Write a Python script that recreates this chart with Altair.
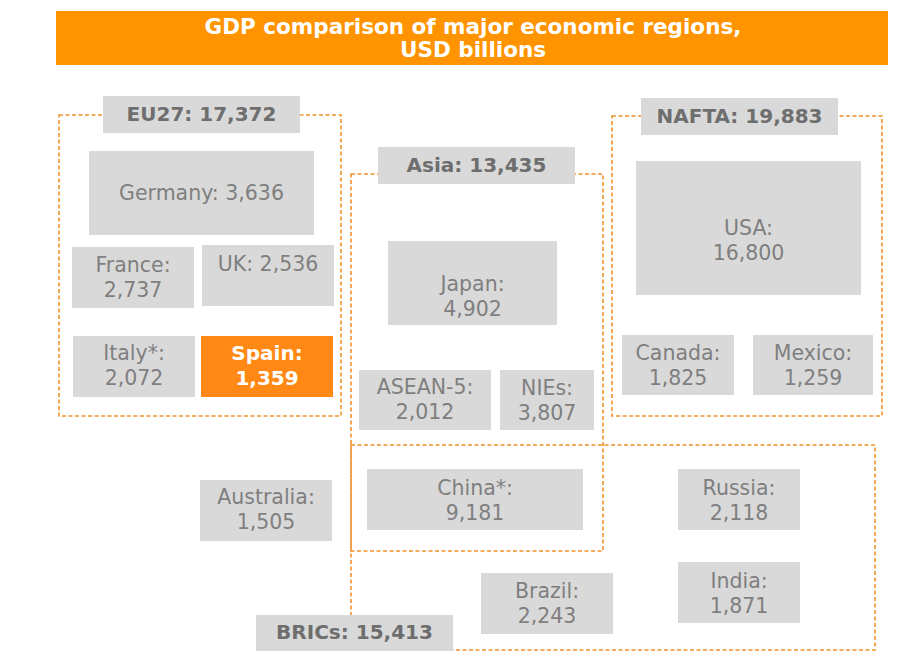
import altair as alt
import pandas as pd

# ---- data ----
title_lines = ["GDP comparison of major economic regions,", "USD billions"]

countries = ["Germany", "France", "UK", "Italy*", "Spain", "Japan", "ASEAN-5", "NIEs",
             "China*", "Australia", "Russia", "India", "Brazil", "USA", "Canada", "Mexico"]
gdp = [3636, 2737, 2536, 2072, 1359, 4902, 2012, 3807,
       9181, 1505, 2118, 1871, 2243, 16800, 1825, 1259]
one_line = ["Germany", "UK"]          # labels shown on a single line
highlight = "Spain"

regions = ["EU27", "Asia", "NAFTA", "BRICs"]
region_gdp = [17372, 13435, 19883, 15413]

# ---- layout of the diagram (page pixels): box x0, y0, x1, y1, first text line y ----
country_box = {
    "Germany": (89, 153, 314, 237, 196),
    "France": (72, 249, 194, 310, 268),
    "UK": (202, 247, 334, 308, 267),
    "Italy*": (73, 338, 195, 399, 356),
    "Spain": (201, 338, 333, 399, 356),
    "Japan": (388, 243, 557, 327, 287),
    "ASEAN-5": (359, 372, 491, 432, 390),
    "NIEs": (500, 372, 594, 432, 391),
    "China*": (367, 471, 583, 532, 491),
    "Australia": (200, 482, 332, 543, 500),
    "Russia": (678, 471, 800, 532, 491),
    "India": (678, 564, 800, 625, 584),
    "Brazil": (481, 575, 613, 636, 594),
    "USA": (636, 163, 861, 297, 231),
    "Canada": (622, 337, 734, 397, 356),
    "Mexico": (753, 337, 873, 397, 356),
}
region_frame = {
    "EU27": (59, 117, 341, 418),
    "Asia": (351, 176, 603, 553),
    "NAFTA": (612, 118, 882, 418),
    "BRICs": (351, 447, 875, 652),
}
region_label_box = {
    "EU27": (103, 98, 300, 135),
    "Asia": (378, 149, 575, 186),
    "NAFTA": (641, 100, 838, 137),
    "BRICs": (256, 617, 453, 653),
}
banner = (56, 13, 888, 67)

# ---- tables ----
def fmt(v):
    return f"{v:,}"

cdf = pd.DataFrame({
    "name": countries,
    "gdp": gdp,
    "label": [f"{n}: {fmt(v)}" if n in one_line else f"{n}:\n{fmt(v)}" for n, v in zip(countries, gdp)],
    "x0": [country_box[n][0] for n in countries],
    "y0": [country_box[n][1] for n in countries],
    "x1": [country_box[n][2] for n in countries],
    "y1": [country_box[n][3] for n in countries],
    "ty": [country_box[n][4] for n in countries],
})
cdf["cx"] = (cdf["x0"] + cdf["x1"]) / 2
cdf["hl"] = cdf["name"] == highlight

rdf = pd.DataFrame({
    "name": regions,
    "gdp": region_gdp,
    "label": [f"{n}: {fmt(v)}" for n, v in zip(regions, region_gdp)],
    "fx0": [region_frame[n][0] for n in regions],
    "fy0": [region_frame[n][1] for n in regions],
    "fx1": [region_frame[n][2] for n in regions],
    "fy1": [region_frame[n][3] for n in regions],
    "lx0": [region_label_box[n][0] for n in regions],
    "ly0": [region_label_box[n][1] for n in regions],
    "lx1": [region_label_box[n][2] for n in regions],
    "ly1": [region_label_box[n][3] for n in regions],
})
rdf["lcx"] = (rdf["lx0"] + rdf["lx1"]) / 2
rdf["lcy"] = (rdf["ly0"] + rdf["ly1"]) / 2

bdf = pd.DataFrame({"x0": [banner[0]], "y0": [banner[1]], "x1": [banner[2]], "y1": [banner[3]]})
tdf = pd.DataFrame({"text": title_lines, "x": [473, 473], "y": [35.5, 59]})

W, H = 892, 643
xs = alt.Scale(domain=[8, 8 + W], nice=False, zero=False)
ys = alt.Scale(domain=[10, 10 + H], nice=False, zero=False, reverse=True)

def X(f):
    return alt.X(f, type="quantitative", scale=xs, axis=None)

def Y(f):
    return alt.Y(f, type="quantitative", scale=ys, axis=None)

FONT = "DejaVu Sans"
GRAY = "#D9D9D9"
ORANGE_LINE = "#F0922E"

banner_l = alt.Chart(bdf).mark_rect(color="#FF9400").encode(
    x=X("x0"), x2="x1", y=Y("y0"), y2="y1")

title_l = alt.Chart(tdf).mark_text(font=FONT, fontSize=21.5, fontWeight="bold", color="white",
                                   align="center", baseline="alphabetic").encode(
    x=X("x"), y=Y("y"), text="text:N")

frames = alt.Chart(rdf).mark_rect(fillOpacity=0, stroke=ORANGE_LINE, strokeWidth=1.6,
                                  strokeDash=[4, 2.5]).encode(
    x=X("fx0"), x2="fx1", y=Y("fy0"), y2="fy1")

cboxes = alt.Chart(cdf).mark_rect().encode(
    x=X("x0"), x2="x1", y=Y("y0"), y2="y1",
    color=alt.condition(alt.datum.hl, alt.value("#FF8914"), alt.value(GRAY)))

ctext_plain = alt.Chart(cdf).transform_filter(~alt.datum.hl).mark_text(
    font=FONT, fontSize=20.5, color="#7F7F7F", align="center", baseline="middle",
    lineBreak="\n", lineHeight=24.5).encode(x=X("cx"), y=Y("ty"), text="label:N")

ctext_hl = alt.Chart(cdf).transform_filter(alt.datum.hl).mark_text(
    font=FONT, fontSize=20, fontWeight="bold", color="white", align="center",
    baseline="middle", lineBreak="\n", lineHeight=24.5).encode(
    x=X("cx"), y=Y("ty"), text="label:N")

lboxes = alt.Chart(rdf).mark_rect(color=GRAY).encode(
    x=X("lx0"), x2="lx1", y=Y("ly0"), y2="ly1")

ltext = alt.Chart(rdf).mark_text(font=FONT, fontSize=20, fontWeight="bold", color="#6E6E6E",
                                 align="center", baseline="middle").encode(
    x=X("lcx"), y=Y("lcy"), text="label:N")

chart = alt.layer(banner_l, title_l, frames, cboxes, ctext_plain, ctext_hl, lboxes, ltext).properties(
    width=W, height=H, padding=0, autosize=alt.AutoSizeParams(type="none"),
    background="white"
).configure_view(strokeWidth=0)

chart.save("out.html", embed_options={"renderer": "svg", "actions": False})
